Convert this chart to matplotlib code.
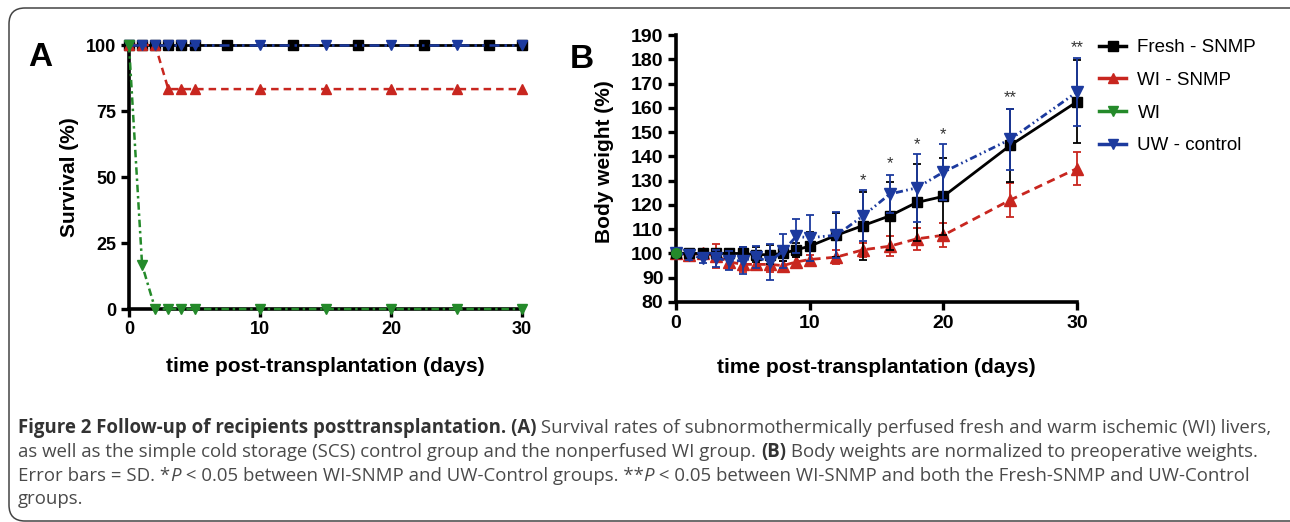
import matplotlib

matplotlib.use("Agg")
import matplotlib.pyplot as plt
from matplotlib import font_manager
from matplotlib.font_manager import FontProperties
from matplotlib.lines import Line2D
from matplotlib.patches import PathPatch
from matplotlib.path import Path
from matplotlib.transforms import IdentityTransform

W, H = 1290, 522

# ---- panel A: survival (%)
surv_days_fresh = [0, 1, 2, 3, 4, 5, 7.5, 12.5, 17.5, 22.5, 27.5, 30]
surv_fresh = [100, 100, 100, 100, 100, 100, 100, 100, 100, 100, 100, 100]
surv_days = [0, 1, 2, 3, 4, 5, 10, 15, 20, 25, 30]
surv_uw = [100, 100, 100, 100, 100, 100, 100, 100, 100, 100, 100]
surv_wi_snmp = [100, 100, 100, 83.3, 83.3, 83.3, 83.3, 83.3, 83.3, 83.3, 83.3]
surv_wi = [100, 16.7, 0, 0, 0, 0, 0, 0, 0, 0, 0]

# ---- panel B: body weight (%) mean and SD
bw_days = [0, 1, 2, 3, 4, 5, 6, 7, 8, 9, 10, 12, 14, 16, 18, 20, 25, 30]
fresh_bw = [100, 100, 100, 100, 100, 100, 99.5, 99.5, 100, 101.5, 103, 107.5, 111.5, 115.5, 121, 123.5, 144.5, 162.5]
fresh_sd = [0, 1.5, 2, 2, 2, 2.5, 3, 4, 3, 3, 6, 9, 14, 14, 16, 16, 15, 17]
wi_snmp_bw = [100, 99.5, 100, 99, 96.5, 95.5, 95.5, 95.5, 95, 96.5, 97.5, 98.5, 101.5, 103, 106, 107.5, 122, 135]
wi_snmp_sd = [0, 1.5, 2, 5, 3, 3, 2, 3, 2, 2, 2, 3, 3, 4, 4.5, 5, 7, 7]
uw_bw = [100, 99.5, 98, 98, 97, 97, 98.5, 96.5, 101, 107, 106.5, 107.5, 115.5, 124.5, 127, 133.5, 147, 166.5]
uw_sd = [0, 2, 2, 3.5, 4, 5.5, 4.5, 7.5, 7, 7, 9.5, 9.5, 10.5, 8, 14, 11.5, 12.5, 14]
wi_days = [0]
wi_bw = [100]

star_days = [14, 16, 18, 20, 25, 30]
star_y = [130, 137, 145, 149, 164, 185]
star_text = ["*", "*", "*", "*", "**", "**"]

labels = ["Fresh - SNMP", "WI - SNMP", "WI", "UW - control"]

C_BLACK = "#000000"
C_RED = "#c8261f"
C_GREEN = "#248a2a"
C_BLUE = "#1c3a9e"

plt.rcParams["font.family"] = ["Liberation Sans", "DejaVu Sans"]
plt.rcParams["font.weight"] = "bold"

fig = plt.figure(figsize=(W / 100, H / 100), dpi=100)

# rounded frame: top, left and bottom edges, right side runs off the page (pixel coords)
r = 16
top, bot, left, far = H - 8, 1, 9, W + 30
verts = [(far, top), (left + r, top), (left, top), (left, top - r),
         (left, bot + r), (left, bot), (left + r, bot), (far, bot)]
codes = [Path.MOVETO, Path.LINETO, Path.CURVE3, Path.CURVE3,
         Path.LINETO, Path.CURVE3, Path.CURVE3, Path.LINETO]
fig.patches.append(PathPatch(Path(verts, codes), transform=IdentityTransform(),
                             facecolor="none", edgecolor="#444444", linewidth=1.1))


def axes_px(left, top, right, bottom):
    return fig.add_axes([left / W, 1 - bottom / H, (right - left) / W, (bottom - top) / H])


def style_axes(ax, size):
    for s in ["top", "right"]:
        ax.spines[s].set_visible(False)
    for s in ["left", "bottom"]:
        ax.spines[s].set_linewidth(2.6)
    ax.tick_params(width=2.4, length=6, labelsize=size, pad=3)
    for lab in ax.get_xticklabels() + ax.get_yticklabels():
        lab.set_fontweight("bold")


dash_blue = (0, (2.6, 1.2, 0.6, 1.2, 0.6, 1.2))

# ---------- panel A
axA = axes_px(129, 45, 522, 309)
axA.plot(surv_days_fresh, surv_fresh, color=C_BLACK, marker="s", ms=7, lw=2, clip_on=False, zorder=3)
axA.plot(surv_days, surv_uw, color=C_BLUE, marker="v", ms=7.5, lw=1.8, ls=(0, (4, 2, 1, 2, 1, 2)),
         clip_on=False, zorder=4)
axA.plot(surv_days, surv_wi_snmp, color=C_RED, marker="^", ms=7.5, lw=1.8, ls=(0, (3, 2)),
         clip_on=False, zorder=3)
axA.plot(surv_days, surv_wi, color=C_GREEN, marker="v", ms=7.5, lw=1.8, ls=(0, (3, 1.5, 1, 1.5)),
         clip_on=False, zorder=5)
axA.set_xlim(0, 30)
axA.set_ylim(0, 100)
axA.set_xticks([0, 10, 20, 30])
axA.set_yticks([0, 25, 50, 75, 100])
style_axes(axA, 13)
axA.set_ylabel("Survival (%)", fontsize=15, fontweight="bold")
axA.yaxis.set_label_coords(-0.127, 0.5)
axA.set_xlabel("time post-transplantation (days)", fontsize=15, fontweight="bold")
axA.xaxis.set_label_coords(0.5, -0.18)

# ---------- panel B
axB = axes_px(676, 35, 1077, 302)
eb = dict(capsize=3, elinewidth=1.3, capthick=1.3, clip_on=False)
axB.errorbar(bw_days, wi_snmp_bw, yerr=wi_snmp_sd, color=C_RED, marker="^", ms=8, lw=2,
             ls=(0, (3, 2)), zorder=3, **eb)
axB.errorbar(bw_days, fresh_bw, yerr=fresh_sd, color=C_BLACK, marker="s", ms=7.5, lw=2,
             zorder=4, **eb)
axB.errorbar(bw_days, uw_bw, yerr=uw_sd, color=C_BLUE, marker="v", ms=8.5, lw=2,
             ls=dash_blue, zorder=5, **eb)
axB.plot(wi_days, wi_bw, color=C_GREEN, marker="o", ms=7, ls="none", clip_on=False, zorder=6)
for d, y, t in zip(star_days, star_y, star_text):
    axB.text(d, y, t, ha="center", va="center", fontsize=12, fontweight="normal", color="#333333")
axB.set_xlim(0, 30)
axB.set_ylim(80, 190)
axB.set_xticks([0, 10, 20, 30])
axB.set_yticks(range(80, 191, 10))
style_axes(axB, 14)
axB.set_ylabel("Body weight (%)", fontsize=15, fontweight="bold")
axB.yaxis.set_label_coords(-0.155, 0.525)
axB.set_xlabel("time post-transplantation (days)", fontsize=15, fontweight="bold")
axB.xaxis.set_label_coords(0.5, -0.21)

handles = [
    Line2D([], [], color=C_BLACK, marker="s", ms=7, lw=2.5),
    Line2D([], [], color=C_RED, marker="^", ms=7, lw=2.5),
    Line2D([], [], color=C_GREEN, marker="v", ms=7, lw=2.5),
    Line2D([], [], color=C_BLUE, marker="v", ms=7, lw=2.5),
]
fig.legend(handles, labels, loc="upper left", bbox_to_anchor=(1099 / W, 1 - 39 / H),
           frameon=False, prop=FontProperties(family="Liberation Sans", size=13.5, weight="normal"),
           handlelength=1.45, handletextpad=0.6, labelspacing=0.83, borderpad=0, borderaxespad=0)

fig.text(40 / W, 1 - 57 / H, "A", fontsize=24, fontweight="bold", ha="center", va="center")
fig.text(582 / W, 1 - 60 / H, "B", fontsize=24, fontweight="bold", ha="center", va="center")

# ---------- caption
installed = {f.name for f in font_manager.fontManager.ttflist}
cap_family = "Open Sans"
for fam in ["Liberation Sans Narrow", "DejaVu Sans Condensed", "Open Sans"]:
    if fam in installed:
        cap_family = fam
        break

cap_lines = [
    [("Figure 2 Follow-up of recipients posttransplantation. (A)", "bold", "normal"),
     (" Survival rates of subnormothermically perfused fresh and warm ischemic (WI) livers,", "normal", "normal")],
    [("as well as the simple cold storage (SCS) control group and the nonperfused WI group. ", "normal", "normal"),
     ("(B)", "bold", "normal"),
     (" Body weights are normalized to preoperative weights.", "normal", "normal")],
    [("Error bars = SD. *", "normal", "normal"), ("P", "normal", "italic"),
     (" < 0.05 between WI-SNMP and UW-Control groups. **", "normal", "normal"), ("P", "normal", "italic"),
     (" < 0.05 between WI-SNMP and both the Fresh-SNMP and UW-Control", "normal", "normal")],
    [("groups.", "normal", "normal")],
]
cap_baselines = [433, 457, 481, 504]

renderer = fig.canvas.get_renderer()


def piece_width(s, prop):
    w1 = renderer.get_text_width_height_descent("|" + s + "|", prop, ismath=False)[0]
    w2 = renderer.get_text_width_height_descent("||", prop, ismath=False)[0]
    return w1 - w2


def make_prop(size, weight, style):
    return FontProperties(family=cap_family, size=size, weight=weight, style=style)


# size chosen so the first caption line spans the frame as in the figure
base = 12.0
w_first = sum(piece_width(s, make_prop(base, wt, st)) for s, wt, st in cap_lines[0])
cap_size = min(13.5, base * 1247 / w_first)

for pieces, yb in zip(cap_lines, cap_baselines):
    x = 18.0
    for s, wt, st in pieces:
        prop = make_prop(cap_size, wt, st)
        col = "#333333" if wt == "bold" else "#4a4a4a"
        fig.text(x / W, 1 - yb / H, s, fontproperties=prop, color=col, ha="left", va="baseline")
        x += piece_width(s, prop)

fig.savefig("out.png", dpi=100)
